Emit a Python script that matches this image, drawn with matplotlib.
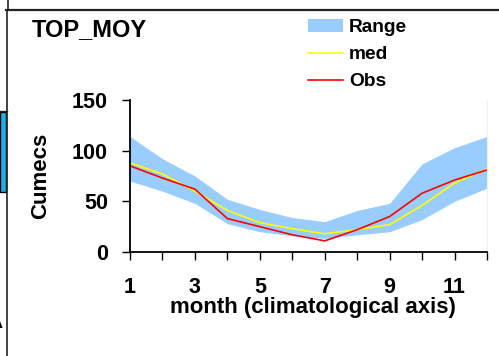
import matplotlib
matplotlib.use('Agg')
import matplotlib.pyplot as plt
import numpy as np
from matplotlib.patches import Rectangle
from matplotlib.lines import Line2D

plt.rcParams['font.family'] = ['Liberation Sans', 'DejaVu Sans']
plt.rcParams['font.weight'] = 'bold'

# monthly climatology (cumecs)
months = np.arange(1, 13)
range_hi = [114, 92, 75, 52, 42, 34, 30, 41, 48, 87, 103, 114]
range_lo = [70, 60, 48, 28, 20, 16, 13.5, 17, 20, 32, 50, 63]
med = [88, 77, 60, 41, 29, 23, 18, 22, 27, 46, 68, 82]
obs = [85, 73, 62, 33, 25, 17, 11, 22, 35, 58, 71, 81]
xtick_labels = ['1', '', '3', '', '5', '', '7', '', '9', '', '11', '']
yticks = [0, 50, 100, 150]

W, H = 499, 356
fig = plt.figure(figsize=(W / 100, H / 100), dpi=100)
ax = fig.add_axes([130 / W, 1 - 252 / H, 357 / W, 152 / H])

ax.fill_between(months, range_lo, range_hi, color='#99ccff', lw=0, label='Range')
ax.plot(months, med, color='#ffff00', lw=1.2, label='med')
ax.plot(months, obs, color='#ff0000', lw=1.2, label='Obs')

ax.set_xlim(1, 12)
ax.set_ylim(0, 150)
ax.set_xticks(months)
ax.set_xticklabels(xtick_labels)
ax.set_yticks(yticks)
ax.spines['top'].set_visible(False)
ax.spines['right'].set_color('#eeeefa')
ax.spines['right'].set_linewidth(0.8)
for s in ('left', 'bottom'):
    ax.spines[s].set_linewidth(1.3)
ax.tick_params(direction='out', length=5.8, width=1, labelsize=15.5)
ax.tick_params(axis='x', pad=12)
ax.tick_params(axis='y', pad=10)

ax.legend(loc='upper left', bbox_to_anchor=(308 / W, 1 - 19 / H),
          bbox_transform=fig.transFigure, frameon=False, fontsize=13.8,
          handlelength=1.85, handletextpad=0.3, borderpad=0,
          borderaxespad=0, labelspacing=0.5)

fig.text(32 / W, 1 - 18 / H, 'TOP_MOY', fontsize=17, va='top', ha='left')
fig.text(41 / W, 1 - 176 / H, 'Cumecs', fontsize=16, rotation=90,
         ha='center', va='center')
fig.text(313 / W, 1 - 308 / H, 'month (climatological axis)', fontsize=16,
         ha='center', va='center')

# panel borders around the plot
tf = fig.transFigure
fig.add_artist(Line2D([6 / W, 1], [1 - 9.5 / H] * 2, color='#222222', lw=1.6, transform=tf))
fig.add_artist(Line2D([8 / W] * 2, [1, 1 - 9.5 / H], color='#222222', lw=1.2, transform=tf))
fig.add_artist(Line2D([6.5 / W] * 2, [1 - 9.5 / H, 0], color='#222222', lw=1.2, transform=tf))
fig.add_artist(Line2D([0, 6.5 / W], [1 - 111 / H] * 2, color='#222222', lw=1.0, transform=tf))
fig.add_artist(Rectangle((0, 1 - 192 / H), 5.5 / W, 80 / H, facecolor='#1ab0ea',
                         edgecolor='black', lw=1.0, transform=tf))
fig.text(3 / W, 1 - 324 / H, 'A', fontsize=14, ha='right', va='center')

fig.savefig('out.png', dpi=100)
